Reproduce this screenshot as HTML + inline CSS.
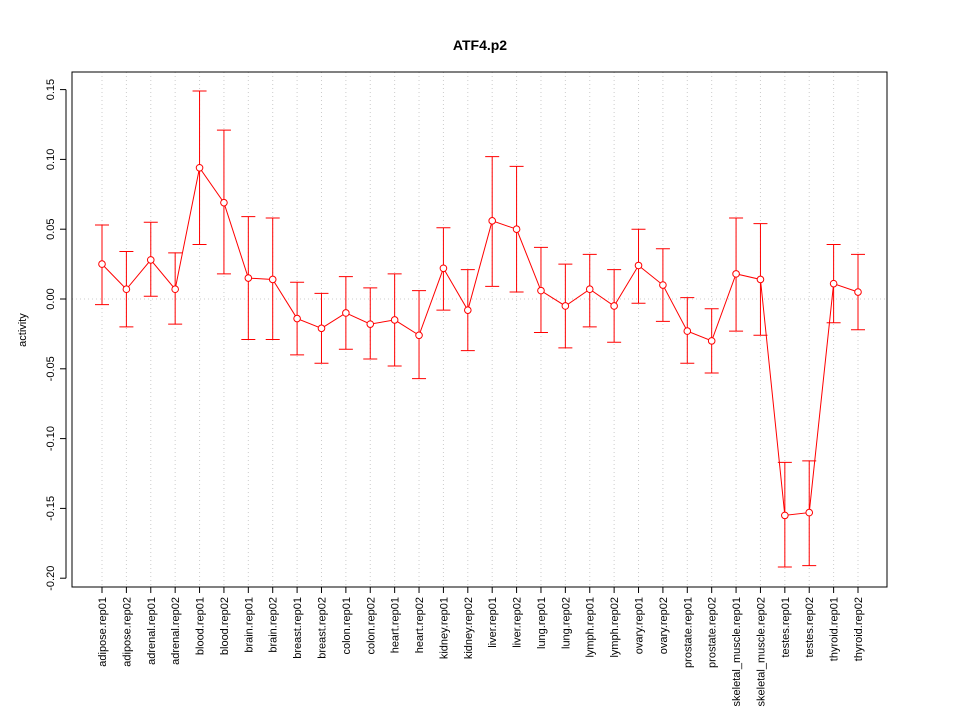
<!DOCTYPE html>
<html><head><meta charset="utf-8"><style>body{margin:0;background:#fff}svg{display:block;font-family:"Liberation Sans",sans-serif}</style></head>
<body>
<svg id="chart" width="960" height="720" xmlns="http://www.w3.org/2000/svg">
<rect width="960" height="720" fill="#fff"/>
<text x="480" y="50" text-anchor="middle" font-weight="bold" font-size="14">ATF4.p2</text>
<g id="grid"></g>
<g id="yaxis"></g>
<g id="xaxis"></g>
<g id="marks"></g>
<rect x="72" y="72" width="815" height="515" fill="none" stroke="#000"/>
<text transform="translate(26,330) rotate(-90)" text-anchor="middle" font-size="11">activity</text>
</svg>
<script>
const categories=["adipose.rep01","adipose.rep02","adrenal.rep01","adrenal.rep02","blood.rep01","blood.rep02","brain.rep01","brain.rep02","breast.rep01","breast.rep02","colon.rep01","colon.rep02","heart.rep01","heart.rep02","kidney.rep01","kidney.rep02","liver.rep01","liver.rep02","lung.rep01","lung.rep02","lymph.rep01","lymph.rep02","ovary.rep01","ovary.rep02","prostate.rep01","prostate.rep02","skeletal_muscle.rep01","skeletal_muscle.rep02","testes.rep01","testes.rep02","thyroid.rep01","thyroid.rep02"];
const values=[0.025,0.007,0.028,0.007,0.094,0.069,0.015,0.014,-0.014,-0.021,-0.010,-0.018,-0.015,-0.026,0.022,-0.008,0.056,0.050,0.006,-0.005,0.007,-0.005,0.024,0.010,-0.023,-0.030,0.018,0.014,-0.155,-0.153,0.011,0.005];
const upper=[0.053,0.034,0.055,0.033,0.149,0.121,0.059,0.058,0.012,0.004,0.016,0.008,0.018,0.006,0.051,0.021,0.102,0.095,0.037,0.025,0.032,0.021,0.050,0.036,0.001,-0.007,0.058,0.054,-0.117,-0.116,0.039,0.032];
const lower=[-0.004,-0.020,0.002,-0.018,0.039,0.018,-0.029,-0.029,-0.040,-0.046,-0.036,-0.043,-0.048,-0.057,-0.008,-0.037,0.009,0.005,-0.024,-0.035,-0.020,-0.031,-0.003,-0.016,-0.046,-0.053,-0.023,-0.026,-0.192,-0.191,-0.017,-0.022];
const yTicks=[0.15,0.10,0.05,0.00,-0.05,-0.10,-0.15,-0.20];
const yTickLabels=["0.15","0.10","0.05","0.00","-0.05","-0.10","-0.15","-0.20"];
const NS="http://www.w3.org/2000/svg";
const xs=i=>102+i*(756/31);
const ys=v=>299-v*1396;
function mk(p,t,a){const e=document.createElementNS(NS,t);for(const k in a)e.setAttribute(k,a[k]);document.getElementById(p).appendChild(e);return e;}
categories.forEach((c,i)=>{
 const g=mk('grid','line',{x1:xs(i),x2:xs(i),y1:72,y2:587,stroke:'#ccc','stroke-dasharray':'1,3'});
 
 
 const t=mk('xaxis','line',{x1:xs(i),x2:xs(i),y1:587,y2:593,stroke:'#000'});
 
 
 const l=mk('xaxis','text',{transform:`translate(${xs(i)+4},597) rotate(-90)`,'text-anchor':'end','font-size':'11'});
 l.textContent=c;
 
 
});
const z=mk('grid','line',{x1:72,x2:887,y1:ys(0),y2:ys(0),stroke:'#ccc','stroke-dasharray':'1,3'});


mk('yaxis','line',{x1:66,x2:66,y1:ys(0.15),y2:ys(-0.20),stroke:'#000'});
yTicks.forEach((v,i)=>{
 const t=mk('yaxis','line',{x1:60,x2:66,y1:ys(v),y2:ys(v),stroke:'#000'});
 
 
 const l=mk('yaxis','text',{transform:`translate(54,${ys(v)}) rotate(-90)`,'text-anchor':'middle','font-size':'11'});
 l.textContent=yTickLabels[i];
 
 
});
const pl=mk('marks','polyline',{points:values.map((v,i)=>xs(i)+','+ys(v)).join(' '),fill:'none',stroke:'#f00'});


values.forEach((v,i)=>{
 const x=xs(i);
 const e=mk('marks','path',{d:`M${x},${ys(lower[i])}V${ys(upper[i])}M${x-7},${ys(upper[i])}H${x+7}M${x-7},${ys(lower[i])}H${x+7}`,stroke:'#f00',fill:'none'});
 
 
 const p=mk('marks','circle',{cx:x,cy:ys(v),r:3.3,fill:'#fff',stroke:'#f00'});
 
 
});
</script>
</body></html>
